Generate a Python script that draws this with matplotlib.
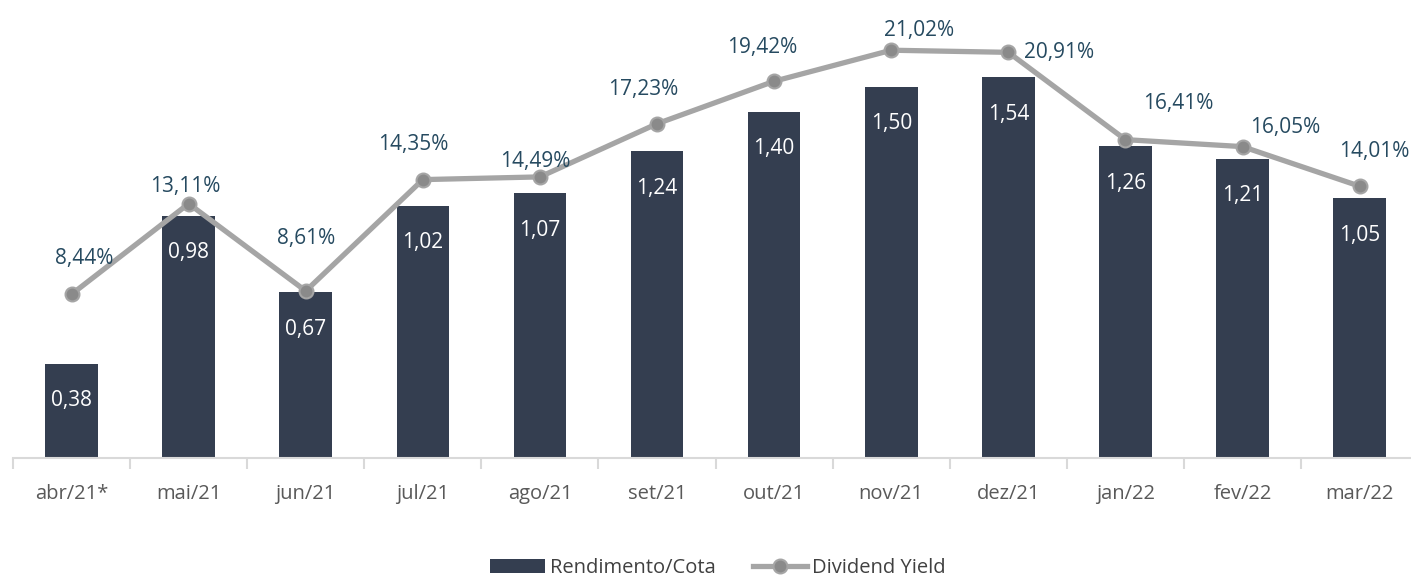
import matplotlib.pyplot as plt
import numpy as np

plt.rcParams['font.family'] = ['Open Sans', 'DejaVu Sans']

months = ['abr/21*', 'mai/21', 'jun/21', 'jul/21', 'ago/21', 'set/21',
          'out/21', 'nov/21', 'dez/21', 'jan/22', 'fev/22', 'mar/22']
rendimento = [0.38, 0.98, 0.67, 1.02, 1.07, 1.24, 1.40, 1.50, 1.54, 1.26, 1.21, 1.05]
dy_pct = [8.44, 13.11, 8.61, 14.35, 14.49, 17.23, 19.42, 21.02, 20.91, 16.41, 16.05, 14.01]

# label offsets (pixels) for the yield labels, hand placed like the original
dy_off = [(13, 36), (-3, 17), (0, 52), (-10, 35), (-5, 15), (-14, 34),
          (-12, 34), (28, 20), (51, 0), (53, 36), (43, 19), (15, 35)]

W, H = 1411, 578
fig = plt.figure(figsize=(W / 100, H / 100), dpi=100)
step = 117.1
ax = fig.add_axes([13 / W, 120 / H, 12 * step / W, 458 / H])
x = np.arange(len(months))

bar_col = '#343E50'
ax.bar(x, rendimento, width=0.45, color=bar_col, label='Rendimento/Cota', zorder=2)
ax.set_xlim(-0.5, 11.5)
ax.set_ylim(0, 458 / 247.4)
for i, v in enumerate(rendimento):
    ax.annotate(f'{v:.2f}'.replace('.', ','), (i, v), xytext=(0, -37),
                textcoords='offset pixels', ha='center', va='center',
                color='white', fontsize=15)

ax2 = ax.twinx()
ax2.set_ylim(0, 458 / 19.4)
ax2.plot(x, dy_pct, color='#A5A5A5', lw=3.8, marker='o', ms=10,
         mfc='#8A8A8A', mec='#A5A5A5', mew=1.5, label='Dividend Yield', zorder=3)
for i, v in enumerate(dy_pct):
    ox, oy = dy_off[i]
    ax2.annotate(f'{v:.2f}%'.replace('.', ','), (i, v), xytext=(ox, oy),
                 textcoords='offset pixels', ha='center', va='center',
                 color='#264A60', fontsize=15)

for a in (ax, ax2):
    for s in ['top', 'right', 'left']:
        a.spines[s].set_visible(False)
    a.set_yticks([])
ax2.spines['bottom'].set_visible(False)
ax.spines['bottom'].set_color('#D9D9D9')
ax.spines['bottom'].set_linewidth(1.5)

ax.set_xticks(x)
ax.set_xticklabels(months, fontsize=14.5, color='#595959')
ax.tick_params(axis='x', length=0, pad=19)
ax.set_xticks(np.arange(-0.5, 11.6, 1), minor=True)
ax.tick_params(axis='x', which='minor', length=8, width=1.5, color='#D9D9D9')

h1, l1 = ax.get_legend_handles_labels()
h2, l2 = ax2.get_legend_handles_labels()
fig.legend(h1 + h2, l1 + l2, loc='center', bbox_to_anchor=(718 / W, 10 / H),
           ncol=2, frameon=False, fontsize=14.5, labelcolor='#404040',
           handlelength=2.7, handleheight=0.75, handletextpad=0.25,
           columnspacing=1.85)

fig.savefig('out.png', dpi=100)
